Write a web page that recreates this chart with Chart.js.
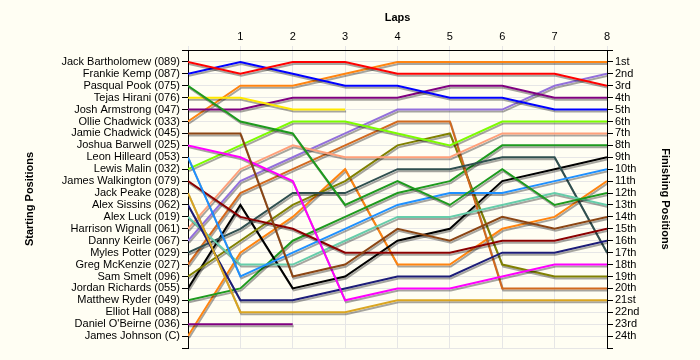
<!DOCTYPE html>
<html><head><meta charset="utf-8">
<script src="https://cdn.jsdelivr.net/npm/chart.js@4/dist/chart.umd.min.js"></script>
<style>html,body{margin:0;padding:0;background:#FFFEF3;}#wrap{width:700px;height:360px;}</style>
</head><body><div id="wrap"><canvas id="c" width="700" height="360"></canvas></div>
<script>
const laps = [0,1,2,3,4,5,6,7,8];
const drivers = [
 "Jack Bartholomew (089)","Frankie Kemp (087)","Pasqual Pook (075)","Tejas Hirani (076)",
 "Josh Armstrong (047)","Ollie Chadwick (033)","Jamie Chadwick (045)","Joshua Barwell (025)",
 "Leon Hilleard (053)","Lewis Malin (032)","James Walkington (079)","Jack Peake (028)",
 "Alex Sissins (062)","Alex Luck (019)","Harrison Wignall (061)","Danny Keirle (067)",
 "Myles Potter (029)","Greg McKenzie (027)","Sam Smelt (096)","Jordan Richards (055)",
 "Matthew Ryder (049)","Elliot Hall (088)","Daniel O'Beirne (036)","James Johnson (C)"];
const finishLabels = ["1st","2nd","3rd","4th","5th","6th","7th","8th","9th","10th","11th","12th",
 "13th","14th","15th","16th","17th","18th","19th","20th","21st","22nd","23rd","24th"];
// position of each driver at each lap (lap 0 = start)
const positions = [
 [1,2,1,1,2,2,2,2,3],
 [2,1,2,3,3,4,4,5,5],
 [3,6,7,13,11,13,10,13,12],
 [4,4,5,5],
 [5,5,4,4,4,3,3,4,4],
 [6,3,3,2,1,1,1,1,1],
 [7,7,19,18,15,16,14,15,14],
 [8,9,11,21,20,20,19,18,18],
 [9,19,17,15,13,12,12,11,10],
 [10,8,6,6,7,8,6,6,6],
 [11,14,15,17,17,17,16,16,15],
 [12,22,22,22,21,21,21,21,21],
 [13,21,21,20,19,19,17,17,16],
 [14,18,18,16,14,14,13,12,13],
 [15,10,8,9,9,9,7,7,7],
 [16,11,9,7,5,5,5,3,2],
 [17,15,12,12,10,10,9,9,17],
 [18,12,10,8,6,6,20,20,20],
 [19,16,13,11,8,7,18,19,19],
 [20,13,20,19,16,15,11,10,9],
 [21,20,16,14,12,11,8,8,8],
 [],
 [23,23,23],
 [24,17,14,10,18,18,15,14,11]];
const colors = ["#FF0000","#0000FF","#1E9A1E","#FFE800","#800080","#FF8410","#8B4513","#FF00FF",
 "#1E90FF","#7CFC00","#8B0000","#DAA520","#1C1C78","#66CDAA","#FFA07A","#9370DB",
 "#2F4F4F","#D2691E","#808000","#000000","#1E9A1E","#FFE800","#800080","#FF8410"];

Chart.defaults.font.family = '"Liberation Sans", Arial, sans-serif';
Chart.defaults.font.size = 11;
Chart.defaults.color = '#000';

const shadow = {id:'shadow',
  beforeDatasetsDraw(c){const x=c.ctx;x.save();x.shadowColor='rgba(0,0,0,0.35)';x.shadowOffsetX=1;x.shadowOffsetY=2;x.shadowBlur=0;},
  afterDatasetsDraw(c){c.ctx.restore();}};

const datasets = drivers.map((d,i)=>({
  label:d,
  data: positions[i].map((p,k)=>({x:laps[k],y:p})),
  borderColor: colors[i], backgroundColor: colors[i],
  borderWidth: 2, pointRadius: 0, tension: 0, fill:false, yAxisID:'y'
}));

new Chart(document.getElementById('c'), {
  type:'line',
  data:{datasets},
  plugins:[shadow],
  options:{
    responsive:false, animation:false, devicePixelRatio:1,
    layout:{padding:{left:0,right:0,top:0,bottom:12}},
    plugins:{legend:{display:false},tooltip:{enabled:false}},
    scales:{
      x:{type:'linear',position:'top',min:0,max:8,
        ticks:{stepSize:1,padding:2,callback:v=>v===0?'':String(v),color:'#000'},
        grid:{color:'#E6E6E6',tickColor:'#E6E6E6',tickLength:4},
        border:{color:'#000',width:1},
        title:{display:true,text:'Laps',font:{weight:'bold',size:11},padding:{top:11,bottom:0}},
        afterFit:s=>{s.height=50;}},
      y:{type:'linear',position:'left',min:0,max:25,reverse:true,
        ticks:{stepSize:1,autoSkip:false,padding:2,callback:v=>drivers[v-1]||'',color:'#000'},
        grid:{color:'#E6E6E6',tickColor:'#000',tickLength:6},
        border:{color:'#000',width:1},
        title:{display:true,text:'Starting Positions',font:{weight:'bold',size:11},padding:{top:23,bottom:0}},
        afterFit:s=>{s.width=188;}},
      y2:{type:'linear',position:'right',min:0,max:25,reverse:true,
        ticks:{stepSize:1,autoSkip:false,padding:2,callback:v=>finishLabels[v-1]||'',color:'#000'},
        grid:{drawOnChartArea:false,tickColor:'#000',tickLength:6},
        border:{color:'#000',width:1},
        title:{display:true,text:'Finishing Positions',font:{weight:'bold',size:11},padding:{top:28,bottom:0}},
        afterFit:s=>{s.width=93;}}
    }
  }
});
</script></body></html>
